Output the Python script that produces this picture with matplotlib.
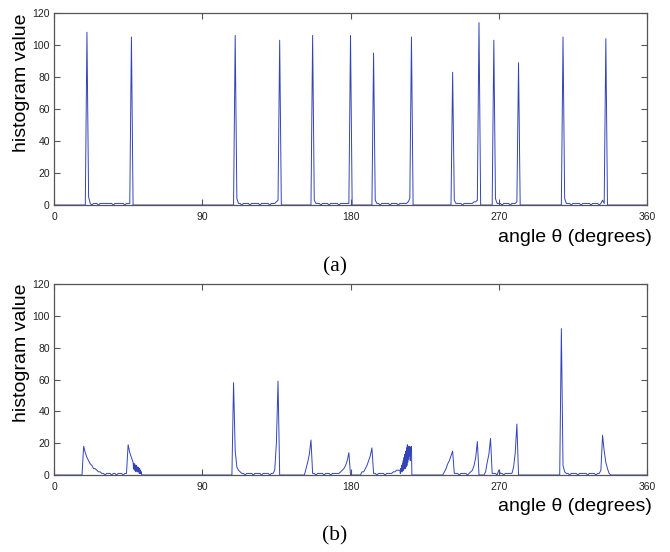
import numpy as np
import matplotlib
matplotlib.use("Agg")
import matplotlib.pyplot as plt

# histogram of angles (1 degree bins, some 0.25)
# (a): each entry is one run of bins starting at the given angle
top_starts = [19, 109, 156, 193, 241, 266, 308]
top_steps = [1, 1, 1, 1, 1, 1, 1]
top_values = [
    [0, 108, 5, 1, 0, 1, 1, 1, 0, 1, 1, 1, 1, 1, 1, 1, 1, 0, 1, 1, 1, 1, 1, 1, 0, 1, 1, 1, 105, 0],
    [0, 106, 4, 1, 1, 0, 1, 1, 1, 1, 0, 1, 1, 1, 1, 1, 0, 1, 1, 1, 1, 1, 0, 1, 1, 1, 2, 3, 103, 0],
    [0, 106, 3, 1, 1, 1, 0, 1, 1, 1, 1, 0, 1, 1, 1, 1, 1, 0, 1, 1, 1, 1, 1, 1, 106, 0],
    [0, 95, 3, 1, 1, 0, 1, 1, 1, 1, 1, 0, 1, 1, 1, 1, 0, 1, 1, 1, 1, 1, 2, 4, 105, 0],
    [0, 83, 3, 1, 1, 1, 1, 0, 1, 1, 1, 1, 1, 1, 2, 2, 3, 114, 0],
    [0, 103, 4, 1, 1, 1, 0, 1, 1, 1, 1, 0, 1, 1, 1, 2, 89, 0],
    [0, 105, 4, 1, 1, 1, 0, 1, 1, 1, 1, 1, 0, 1, 1, 1, 1, 1, 0, 1, 1, 1, 1, 0, 1, 3, 1, 104, 0],
]

# (b)
bottom_starts = [17, 48.25, 108, 152, 186, 210, 236, 261, 307]
bottom_steps = [1, 0.25, 1, 1, 1, 0.25, 1, 1, 1]
bottom_values = [
    [0, 18, 14, 11, 9, 7, 6, 4, 4, 3, 2, 2, 1, 1, 0, 1, 1, 1, 0, 1, 1, 0, 1, 1, 1, 0, 1, 1, 19, 14, 11, 8],
    [4, 7, 3, 7, 4, 6, 2, 6, 3, 5, 2, 5, 2, 4, 1, 4, 1, 3, 1, 2, 0],
    [0, 58, 15, 5, 3, 2, 1, 1, 0, 1, 1, 1, 1, 0, 1, 1, 1, 1, 0, 1, 1, 1, 1, 0, 1, 1, 3, 20, 59, 0],
    [0, 4, 8, 13, 22, 1, 1, 0, 1, 1, 1, 1, 0, 1, 1, 1, 0, 1, 1, 1, 1, 1, 2, 3, 4, 6, 9, 14, 0],
    [0, 2, 2, 4, 6, 9, 12, 17, 1, 1, 0, 1, 1, 1, 1, 0, 1, 1, 1, 1, 2, 2, 3, 3],
    [3, 1, 4, 2, 6, 2, 7, 3, 9, 3, 11, 4, 13, 4, 15, 5, 17, 6, 19, 8, 18, 10, 17, 12, 18, 9, 17, 14, 18, 0],
    [0, 2, 4, 7, 9, 12, 15, 1, 1, 1, 0, 1, 1, 1, 1, 0, 1, 2, 3, 6, 11, 21, 0],
    [0, 2, 8, 13, 23, 1, 1, 1, 0, 3, 1, 1, 0, 1, 1, 1, 1, 1, 5, 14, 32, 0],
    [0, 92, 6, 2, 1, 1, 0, 1, 1, 1, 1, 0, 1, 1, 1, 1, 1, 0, 1, 1, 1, 1, 0, 1, 1, 3, 25, 15, 8, 4, 1, 0],
]

x_ticks = [0, 90, 180, 270, 360]
y_ticks = [0, 20, 40, 60, 80, 100, 120]
panel_labels = ["(a)", "(b)"]


def build_series(starts, steps, values):
    xs, ys = [0.0], [0.0]
    for s, st, v in zip(starts, steps, values):
        xs.extend(s + st * np.arange(len(v)))
        ys.extend(v)
    xs.append(360.0)
    ys.append(0.0)
    return np.array(xs), np.array(ys)


plt.rcParams["font.family"] = ["Liberation Sans", "DejaVu Sans"]

fig = plt.figure(figsize=(6.7, 5.52), dpi=100)
ax_top = fig.add_axes([0.0806, 0.6286, 0.8851, 0.3478])
ax_bot = fig.add_axes([0.0806, 0.1395, 0.8851, 0.3460])

series = [build_series(top_starts, top_steps, top_values),
          build_series(bottom_starts, bottom_steps, bottom_values)]

for ax, (x, y), lab in zip([ax_top, ax_bot], series, panel_labels):
    ax.plot(x, y, color="#3344b8", lw=0.7)
    ax.set_xlim(0, 360)
    ax.set_ylim(0, 120)
    ax.set_xticks(x_ticks)
    ax.set_yticks(y_ticks)
    ax.tick_params(direction="in", top=True, right=True, length=4.5, width=0.8,
                   color="#555555", labelsize=7.5, labelcolor="#222222")
    ax.tick_params(axis="x", pad=5)
    ax.tick_params(axis="y", pad=3)
    for sp in ax.spines.values():
        sp.set_color("#555555")
        sp.set_linewidth(0.9)
    ax.text(-0.0556, 0.638, "histogram value", transform=ax.transAxes, rotation=90,
            ha="center", va="center", fontsize=14)
    ax.text(1.0084, -0.167, "angle θ (degrees)", transform=ax.transAxes,
            ha="right", va="center", fontsize=14)
    ax.text(0.474, -0.32, lab, transform=ax.transAxes, ha="center", va="center",
            fontsize=15.5, family="Liberation Serif")

fig.savefig("out.png", dpi=100)
